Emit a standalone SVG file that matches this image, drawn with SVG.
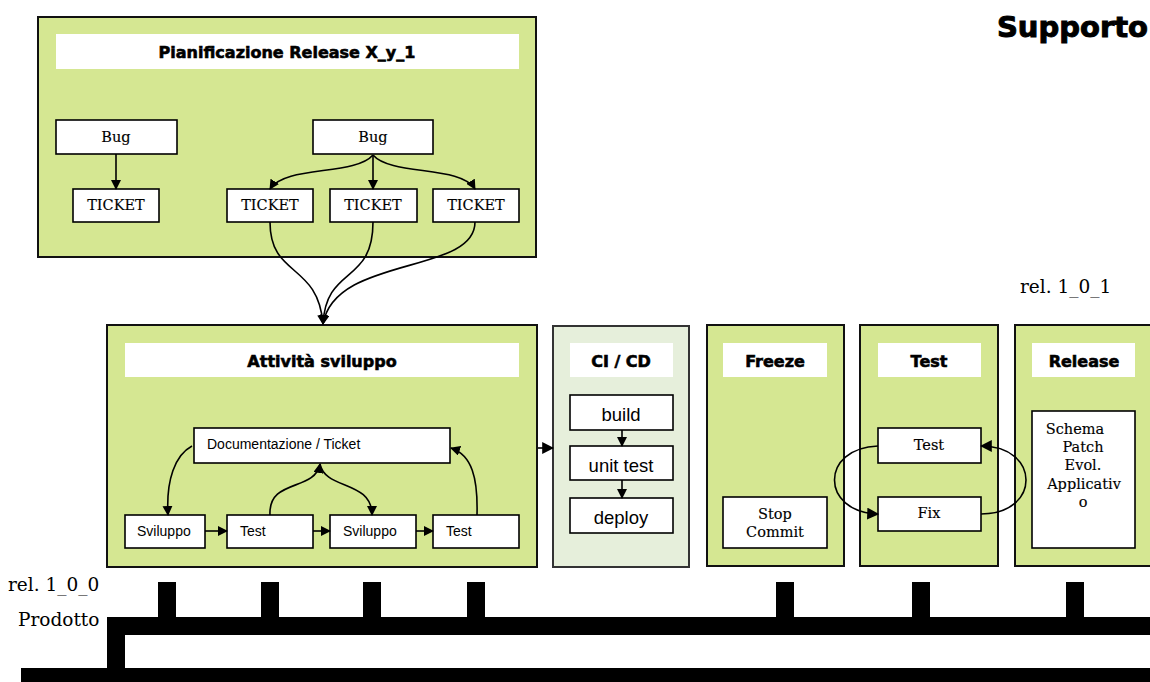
<svg xmlns="http://www.w3.org/2000/svg" width="1150" height="682" viewBox="0 0 1150 682">
<style>
.panel{fill:#d5e792;stroke:#111;stroke-width:2}
.ci{fill:#e6efdb;stroke:#333;stroke-width:2}
.bar{fill:#fff}
.box{fill:#fff;stroke:#000;stroke-width:1.6}
.title{font-family:"DejaVu Sans",sans-serif;font-weight:bold;font-size:16px;text-anchor:middle;fill:#000;stroke:#000;stroke-width:0.6}
.serif{font-family:"DejaVu Serif",serif;font-size:14.5px;text-anchor:middle;fill:#000;stroke:#000;stroke-width:0.15}
.sans{font-family:"Liberation Sans",Arial,sans-serif;font-size:14px;fill:#000}
.sansL{font-family:"Liberation Sans",Arial,sans-serif;font-size:18.5px;text-anchor:middle;fill:#000}
.lbl{font-family:"DejaVu Serif",serif;font-size:18.5px;fill:#000}
.conn{fill:none;stroke:#000;stroke-width:1.6}
.track{fill:#000}
</style>
<defs>
<marker id="ah" viewBox="0 0 10 10" refX="9" refY="5" markerWidth="10" markerHeight="10" orient="auto" markerUnits="userSpaceOnUse">
<path d="M0,0 L10,5 L0,10 z" fill="#000"/>
</marker>
<marker id="ahs" viewBox="0 0 10 10" refX="9" refY="5" markerWidth="12" markerHeight="12" orient="auto" markerUnits="userSpaceOnUse">
<path d="M0,0 L10,5 L0,10 z" fill="#000"/>
</marker>
</defs>

<text x="1148" y="37" font-family="DejaVu Sans,sans-serif" font-weight="bold" font-size="29" text-anchor="end" stroke="#000" stroke-width="1">Supporto</text>

<g id="pianificazione">
<rect class="panel" x="38" y="17" width="498" height="240"/>
<rect class="bar" x="56" y="34" width="463" height="35"/>
<text class="title" x="287" y="58">Pianificazione Release X_y_1</text>
</g>
<g id="bug1"><rect class="box" x="56" y="120" width="121" height="34"/><text class="serif" x="116" y="142">Bug</text></g>
<g id="ticket1"><rect class="box" x="73" y="189" width="86" height="33"/><text class="serif" x="116" y="210">TICKET</text></g>
<g id="bug2"><rect class="box" x="313" y="120" width="120" height="34"/><text class="serif" x="373" y="142">Bug</text></g>
<g id="ticket2"><rect class="box" x="227" y="189" width="86" height="33"/><text class="serif" x="270" y="210">TICKET</text></g>
<g id="ticket3"><rect class="box" x="330" y="189" width="87" height="33"/><text class="serif" x="373" y="210">TICKET</text></g>
<g id="ticket4"><rect class="box" x="433" y="189" width="86" height="33"/><text class="serif" x="476" y="210">TICKET</text></g>

<g id="attivita">
<rect class="panel" x="107" y="325" width="430" height="242"/>
<rect class="bar" x="125" y="343" width="394" height="34"/>
<text class="title" x="322" y="367">Attività sviluppo</text>
</g>
<g id="doc"><rect class="box" x="194" y="428" width="256" height="35"/><text class="sans" x="207" y="449">Documentazione / Ticket</text></g>
<g id="sviluppo1"><rect class="box" x="125" y="515" width="80" height="33"/><text class="sans" x="137" y="536">Sviluppo</text></g>
<g id="test1"><rect class="box" x="227" y="515" width="86" height="33"/><text class="sans" x="240" y="536">Test</text></g>
<g id="sviluppo2"><rect class="box" x="330" y="515" width="86" height="33"/><text class="sans" x="343" y="536">Sviluppo</text></g>
<g id="test2"><rect class="box" x="433" y="515" width="86" height="33"/><text class="sans" x="446" y="536">Test</text></g>

<g id="cicd">
<rect class="ci" x="553" y="326" width="136" height="241"/>
<rect class="bar" x="570" y="343" width="103" height="34"/>
<text class="title" x="621" y="367">CI / CD</text>
</g>
<g id="build"><rect class="box" x="570" y="395" width="103" height="35"/><text class="sansL" x="621" y="421">build</text></g>
<g id="unittest"><rect class="box" x="570" y="446" width="103" height="34"/><text class="sansL" x="621" y="472">unit test</text></g>
<g id="deploy"><rect class="box" x="570" y="498" width="103" height="35"/><text class="sansL" x="621" y="524">deploy</text></g>

<g id="freeze">
<rect class="panel" x="707" y="325" width="137" height="241"/>
<rect class="bar" x="723" y="343" width="104" height="34"/>
<text class="title" x="775" y="367">Freeze</text>
</g>
<g id="stopcommit"><rect class="box" x="723" y="497" width="104" height="51"/><text class="serif" x="775" y="519">Stop</text><text class="serif" x="775" y="537">Commit</text></g>

<g id="testphase">
<rect class="panel" x="860" y="325" width="138" height="241"/>
<rect class="bar" x="878" y="343" width="103" height="34"/>
<text class="title" x="929" y="367">Test</text>
</g>
<g id="testbox"><rect class="box" x="878" y="428" width="103" height="35"/><text class="serif" x="929" y="450">Test</text></g>
<g id="fix"><rect class="box" x="878" y="497" width="103" height="34"/><text class="serif" x="929" y="518">Fix</text></g>

<g id="release">
<rect class="panel" x="1015" y="325" width="140" height="241"/>
<rect class="bar" x="1032" y="343" width="103" height="34"/>
<text class="title" x="1084" y="367">Release</text>
</g>
<g id="schema"><rect class="box" x="1032" y="411" width="103" height="137"/>
<text class="serif" x="1075" y="434">Schema</text>
<text class="serif" x="1083" y="452">Patch</text>
<text class="serif" x="1083" y="470">Evol.</text>
<text class="serif" x="1084" y="489">Applicativ</text>
<text class="serif" x="1083" y="507">o</text>
</g>

<g id="labels">
<text class="lbl" x="1020" y="293">rel. 1_0_1</text>
<text class="lbl" x="8" y="591">rel. 1_0_0</text>
<text class="lbl" x="18" y="626">Prodotto</text>
</g>

<g id="product-line">
<rect class="track" x="107" y="617" width="1045" height="18"/>
<rect class="track" x="107" y="617" width="18" height="66"/>
<rect class="track" x="21" y="668" width="1131" height="15"/>
<rect class="track" x="158" y="582" width="18" height="36"/>
<rect class="track" x="261" y="582" width="18" height="36"/>
<rect class="track" x="363" y="582" width="18" height="36"/>
<rect class="track" x="467" y="582" width="18" height="36"/>
<rect class="track" x="776" y="582" width="18" height="36"/>
<rect class="track" x="912" y="582" width="18" height="36"/>
<rect class="track" x="1066" y="582" width="18" height="36"/>
</g>

<g id="connectors">
<path class="conn" d="M116,154 L116,189" marker-end="url(#ah)"/>
<path class="conn" d="M373,155 C355,176 285,165 270,189" marker-end="url(#ah)"/>
<path class="conn" d="M373,155 L373,189" marker-end="url(#ah)"/>
<path class="conn" d="M373,155 C391,176 461,165 475,189" marker-end="url(#ah)"/>
<path class="conn" d="M270,222 C270,278 318,262 323,324" marker-end="url(#ah)"/>
<path class="conn" d="M373,222 C373,285 326,265 323,324" marker-end="url(#ah)"/>
<path class="conn" d="M475,222 C475,275 335,255 323,324" marker-end="url(#ah)"/>
<path class="conn" d="M192,446 C175,455 166,480 168,515" marker-end="url(#ah)"/>
<path class="conn" d="M270,515 C268,478 315,492 320,464" marker-end="url(#ah)"/>
<path class="conn" d="M320,464 C325,490 372,480 372,515" marker-end="url(#ah)"/>
<path class="conn" d="M477,515 C478,478 472,455 451,448" marker-end="url(#ah)"/>
<path class="conn" d="M205,531 L227,531" marker-end="url(#ah)"/>
<path class="conn" d="M313,531 L330,531" marker-end="url(#ah)"/>
<path class="conn" d="M416,531 L433,531" marker-end="url(#ah)"/>
<path class="conn" d="M538,448 L553,448" marker-end="url(#ahs)"/>
<path class="conn" d="M622,430 L622,446" marker-end="url(#ah)"/>
<path class="conn" d="M622,480 L622,498" marker-end="url(#ah)"/>
<path class="conn" d="M878,446 C820,448 820,512 878,514" marker-end="url(#ahs)"/>
<path class="conn" d="M981,514 C1041,514 1041,446 981,446" marker-end="url(#ahs)"/>
</g>
</svg>
